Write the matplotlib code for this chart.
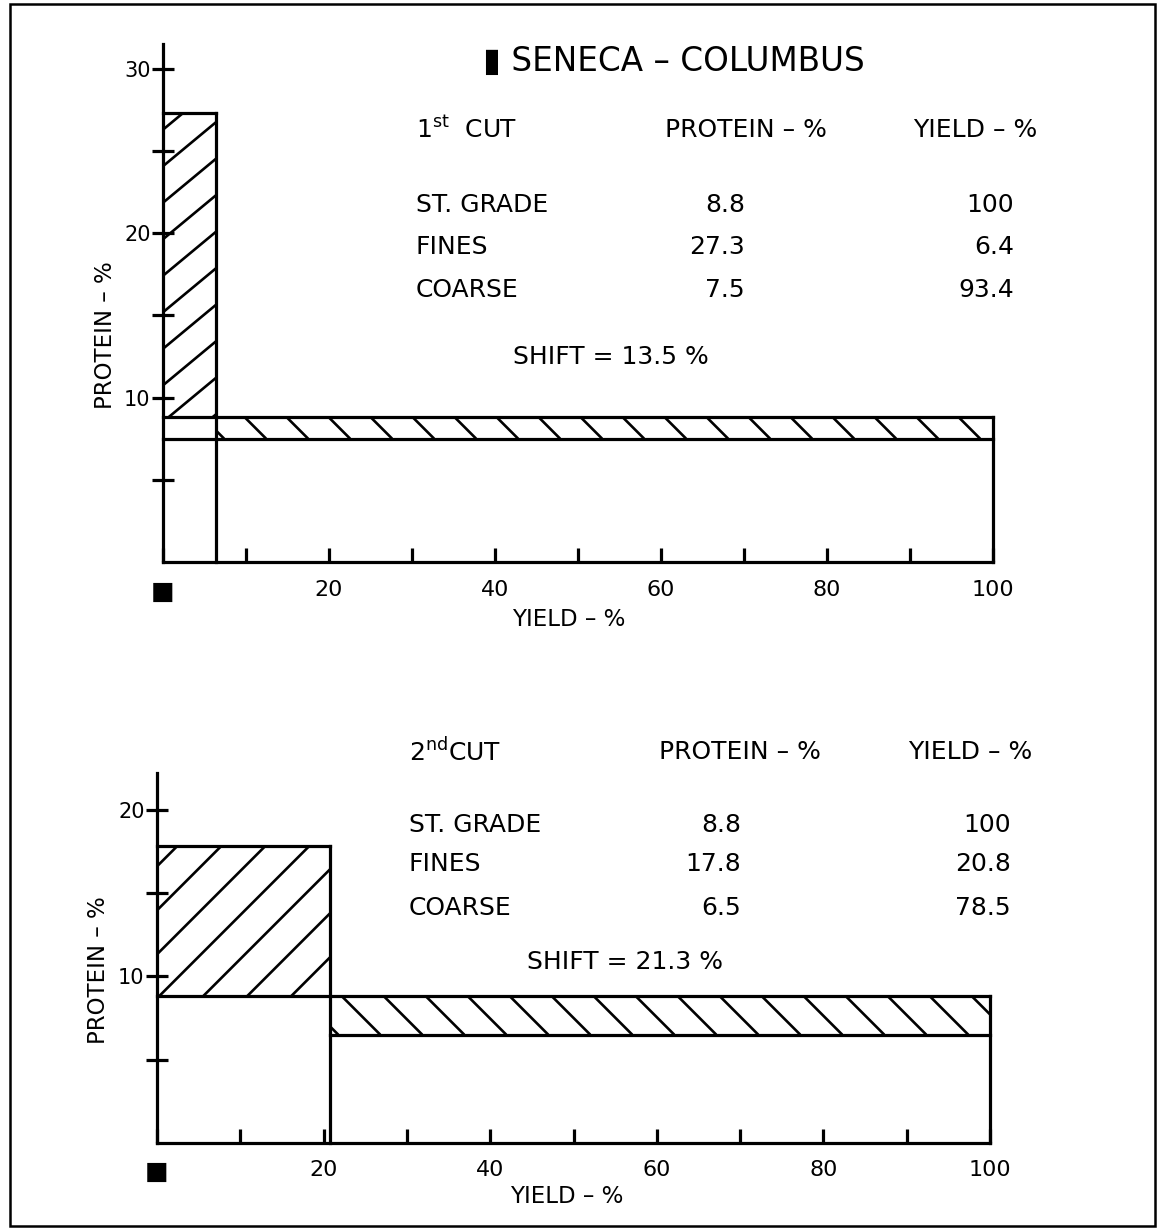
import numpy as np
import matplotlib.pyplot as plt
from matplotlib.patches import Rectangle

plt.rcParams['font.family'] = ['DejaVu Sans']
plt.rcParams['mathtext.default'] = 'regular'

# separation results, Seneca - Columbus
rows = ['ST. GRADE', 'FINES', 'COARSE']

cut1_protein = [8.8, 27.3, 7.5]
cut1_yield = [100, 6.4, 93.4]
cut1_shift = 13.5

cut2_protein = [8.8, 17.8, 6.5]
cut2_yield = [100, 20.8, 78.5]
cut2_shift = 21.3

x_ticks = [0, 10, 20, 30, 40, 50, 60, 70, 80, 90, 100]
x_labels = ['\u25a0', '', '20', '', '40', '', '60', '', '80', '', '100']

LW = 2.3


def hatch(ax, x0, x1, y0, y1, step, slope=1.0, rising=True, offset=0.0):
    # hand drawn style hatching, spacing given in pixels
    bb = ax.get_window_extent()
    sx = bb.width / np.diff(ax.get_xlim())[0]
    sy = bb.height / np.diff(ax.get_ylim())[0]
    w = (x1 - x0) * sx
    h = (y1 - y0) * sy
    run = h / slope
    clip = Rectangle((x0, y0), x1 - x0, y1 - y0, fill=False, lw=0)
    ax.add_patch(clip)
    for u in np.arange(-run + offset, w + step, step):
        xs = [u, u + run]
        ys = [0, h] if rising else [h, 0]
        line, = ax.plot(x0 + np.array(xs) / sx, y0 + np.array(ys) / sy,
                        color='black', lw=1.9, solid_capstyle='butt')
        line.set_clip_path(clip)


def panel(ax, protein, yld, ymax, yticks, ylabels, fines_slope, coarse_full,
          ylab_pos, xlab_pos, xpad):
    std_p, fin_p, crs_p = protein
    std_y, fin_y, crs_y = yld
    ax.set_xlim(0, 100)
    ax.set_ylim(0, ymax)
    for s in ['top', 'right']:
        ax.spines[s].set_visible(False)
    ax.spines['left'].set_linewidth(LW)
    ax.spines['bottom'].set_linewidth(LW)

    ax.set_xticks(x_ticks)
    ax.set_xticklabels(x_labels)
    ax.tick_params(axis='x', direction='in', length=10, width=LW,
                   labelsize=16, pad=xpad)
    ax.get_xticklabels()[0].set_fontsize(18)
    ax.set_yticks(yticks)
    ax.set_yticklabels(ylabels)
    ax.tick_params(axis='y', direction='inout', length=16, width=LW,
                   labelsize=15, pad=1)

    k = dict(color='black', lw=LW, solid_capstyle='projecting', clip_on=False)
    # fines bar
    ax.plot([0, fin_y], [fin_p, fin_p], **k)
    ax.plot([fin_y, fin_y], [0, fin_p], **k)
    # standard grade
    ax.plot([0, 100], [std_p, std_p], **k)
    ax.plot([100, 100], [0, std_p], **k)
    # coarse
    ax.plot([0 if coarse_full else fin_y, 100], [crs_p, crs_p], **k)

    hatch(ax, 0, fin_y, std_p, fin_p, 44, slope=fines_slope, rising=True, offset=20)
    hatch(ax, fin_y, 100, crs_p, std_p, 42, slope=1.0, rising=False, offset=8)

    ax.set_ylabel('PROTEIN \u2013 %', fontsize=16.5)
    ax.yaxis.set_label_coords(*ylab_pos)
    ax.set_xlabel('YIELD \u2013 %', fontsize=16.5)
    ax.xaxis.set_label_coords(*xlab_pos)


def table(fig, cut, protein, yld, shift, xs, ys):
    kw = dict(fontsize=18, va='center')
    fig.text(xs[0] / 1164, 1 - ys[0] / 1229, cut, ha='left', **kw)
    fig.text(xs[1] / 1164, 1 - ys[0] / 1229, 'PROTEIN \u2013 %', ha='left', **kw)
    fig.text(xs[2] / 1164, 1 - ys[0] / 1229, 'YIELD \u2013 %', ha='left', **kw)
    for i, name in enumerate(rows):
        y = 1 - ys[i + 1] / 1229
        fig.text(xs[0] / 1164, y, name, ha='left', **kw)
        fig.text(xs[3] / 1164, y, f'{protein[i]:g}', ha='right', **kw)
        fig.text(xs[4] / 1164, y, f'{yld[i]:g}', ha='right', **kw)
    fig.text(xs[5] / 1164, 1 - ys[4] / 1229, f'SHIFT = {shift:g} %', ha='left', **kw)


fig = plt.figure(figsize=(11.64, 12.29), dpi=100)

ax1 = fig.add_axes([163 / 1164, 1 - 562 / 1229, 830 / 1164, 518 / 1229])
panel(ax1, cut1_protein, cut1_yield, 31.5, [5, 10, 15, 20, 25, 30],
      ['', '10', '', '20', '', '30'], 0.83, True,
      (-0.055, 0.438), (0.489, -0.089), 13)

ax2 = fig.add_axes([157 / 1164, 1 - 1143 / 1229, 833 / 1164, 370 / 1229])
panel(ax2, cut2_protein, cut2_yield, 22.2, [5, 10, 15, 20],
      ['', '10', '', '20'], 1.0, False,
      (-0.056, 0.468), (0.492, -0.114), 12)

fig.text(483 / 1164, 1 - 61 / 1229, '\u25ae SENECA \u2013 COLUMBUS', fontsize=23.5,
         ha='left', va='center')

table(fig, '1$^{st}$  CUT', cut1_protein, cut1_yield, cut1_shift,
      [416, 665, 913, 745, 1014, 513], [130, 205, 247, 290, 357])
table(fig, '2$^{nd}$CUT', cut2_protein, cut2_yield, cut2_shift,
      [409, 659, 908, 741, 1011, 527], [752, 825, 864, 908, 962])

fig.patches.append(Rectangle((10 / 1164, 1 - 1226 / 1229), 1145 / 1164, 1222 / 1229,
                             transform=fig.transFigure, fill=False, lw=1.8,
                             edgecolor='black'))

fig.savefig('out.png', dpi=100)
